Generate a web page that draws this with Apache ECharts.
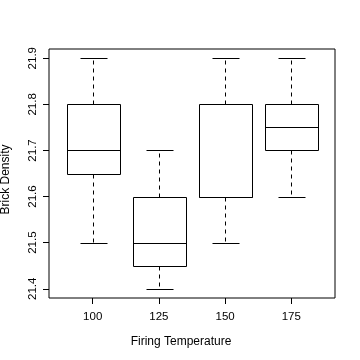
<!DOCTYPE html>
<html>
<head>
<meta charset="utf-8">
<script src="https://cdn.jsdelivr.net/npm/echarts@6/dist/echarts.min.js"></script>
<style>
html,body{margin:0;padding:0;background:#fff;}
#chart{width:360px;height:360px;}
</style>
</head>
<body>
<div id="chart"></div>
<script>
// Data
var categories = ['100', '125', '150', '175'];
var whiskerLow = [21.5, 21.4, 21.5, 21.6];
var quartile1 = [21.65, 21.45, 21.6, 21.7];
var medians = [21.7, 21.5, 21.6, 21.75];
var quartile3 = [21.8, 21.6, 21.8, 21.8];
var whiskerHigh = [21.9, 21.7, 21.9, 21.9];
var yTicks = [21.4, 21.5, 21.6, 21.7, 21.8, 21.9];
var xTitle = 'Firing Temperature';
var yTitle = 'Brick Density';

var FONT = 'Liberation Sans, Arial, sans-serif';
var boxData = categories.map(function (c, i) {
  return [i + 1, whiskerLow[i], quartile1[i], medians[i], quartile3[i], whiskerHigh[i]];
});
var xTickPos = categories.map(function (c, i) { return i + 1; });

function renderBox(params, api) {
  var x = api.value(0);
  var pLo = api.coord([x, api.value(1)]);
  var pQ1 = api.coord([x, api.value(2)]);
  var pMed = api.coord([x, api.value(3)]);
  var pQ3 = api.coord([x, api.value(4)]);
  var pHi = api.coord([x, api.value(5)]);
  var boxW = api.size([0.8, 0])[0];
  var capW = api.size([0.4, 0])[0];
  var cx = Math.round(pMed[0]) + 0.5;
  function ry(v) { return Math.round(v) + 0.5; }
  var lineStyle = { stroke: '#000', lineWidth: 1, fill: null };
  var dashStyle = { stroke: '#000', lineWidth: 1, lineDash: [4, 4] };
  var l = Math.round(cx - boxW / 2) + 0.5, r = Math.round(cx + boxW / 2) + 0.5;
  var cl = Math.round(cx - capW / 2) + 0.5, cr = Math.round(cx + capW / 2) + 0.5;
  return {
    type: 'group',
    children: [
      { type: 'line', shape: { x1: cx, y1: ry(pQ3[1]), x2: cx, y2: ry(pHi[1]) }, style: dashStyle },
      { type: 'line', shape: { x1: cx, y1: ry(pQ1[1]), x2: cx, y2: ry(pLo[1]) }, style: dashStyle },
      { type: 'line', shape: { x1: cl, y1: ry(pHi[1]), x2: cr, y2: ry(pHi[1]) }, style: lineStyle },
      { type: 'line', shape: { x1: cl, y1: ry(pLo[1]), x2: cr, y2: ry(pLo[1]) }, style: lineStyle },
      { type: 'rect', shape: { x: l, y: ry(pQ3[1]), width: r - l, height: ry(pQ1[1]) - ry(pQ3[1]) },
        style: { stroke: '#000', lineWidth: 1, fill: '#fff' } },
      { type: 'line', shape: { x1: l, y1: ry(pMed[1]), x2: r, y2: ry(pMed[1]) }, style: lineStyle }
    ]
  };
}

var chart = echarts.init(document.getElementById('chart'), null, { renderer: 'canvas' });
chart.setOption({
  backgroundColor: '#fff',
  animation: false,
  textStyle: { fontFamily: FONT, color: '#000' },
  grid: { left: 49, right: 25, top: 49, bottom: 62, show: true, borderColor: '#000', borderWidth: 1, backgroundColor: 'transparent' },
  xAxis: {
    type: 'value', min: 0.34, max: 4.66,
    axisLine: { show: false },
    splitLine: { show: false },
    axisTick: { show: true, length: 6, inside: false, customValues: xTickPos, lineStyle: { color: '#000', width: 1 } },
    axisLabel: {
      customValues: xTickPos, margin: 13, fontSize: 11.5, color: '#000', fontFamily: FONT,
      formatter: function (v) { return categories[Math.round(v) - 1]; }
    }
  },
  yAxis: {
    type: 'value', min: 21.38, max: 21.92,
    axisLine: { show: false },
    splitLine: { show: false },
    axisTick: { show: true, length: 6, inside: false, customValues: yTicks, lineStyle: { color: '#000', width: 1 } },
    axisLabel: {
      customValues: yTicks, rotate: 90, margin: 10, fontSize: 11.5, color: '#000', fontFamily: FONT,
      formatter: function (v) { return v.toFixed(1); }
    }
  },
  graphic: [
    { type: 'text', x: 181, y: 342, style: { text: xTitle, font: '12px ' + FONT, fill: '#000', align: 'center', verticalAlign: 'middle' } },
    { type: 'text', x: 6, y: 179.5, rotation: Math.PI / 2, style: { text: yTitle, font: '12px ' + FONT, fill: '#000', align: 'center', verticalAlign: 'middle' } }
  ],
  series: [{
    type: 'custom',
    renderItem: renderBox,
    data: boxData,
    encode: { x: 0, y: [1, 2, 3, 4, 5] },
    silent: true
  }]
});
</script>
</body>
</html>
